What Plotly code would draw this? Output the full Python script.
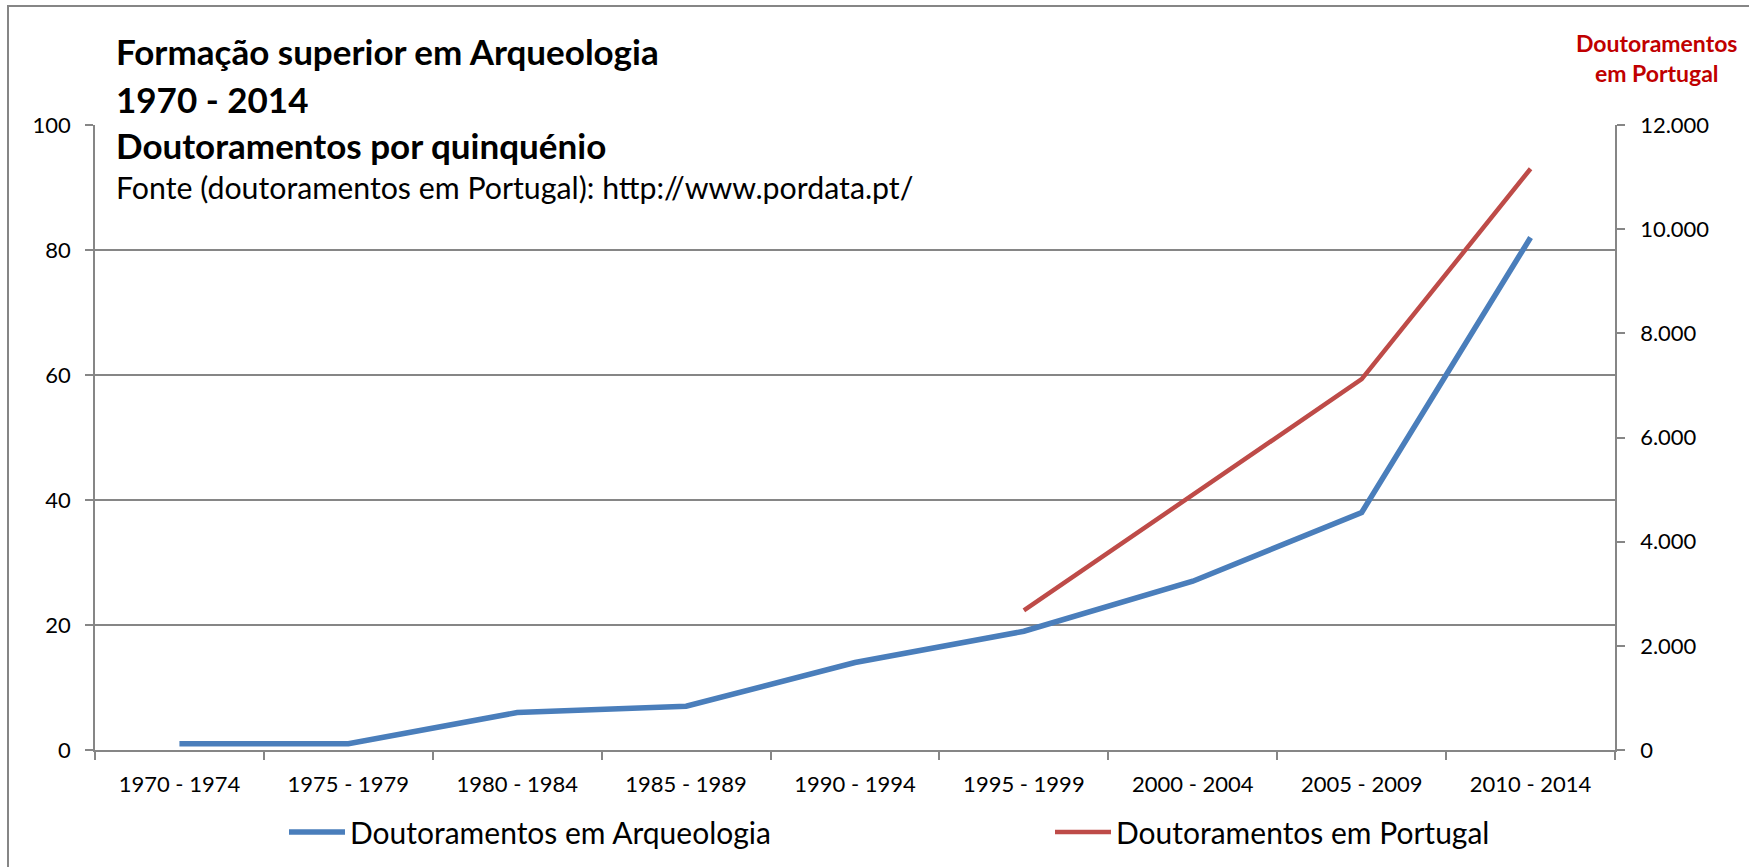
import plotly.graph_objects as go

categories = ["1970 - 1974", "1975 - 1979", "1980 - 1984", "1985 - 1989", "1990 - 1994",
              "1995 - 1999", "2000 - 2004", "2005 - 2009", "2010 - 2014"]
arqueologia = [1, 1, 6, 7, 14, 19, 27, 38, 82]
portugal = [None, None, None, None, None, 2680, 4900, 7120, 11160]
left_ticks = [0, 20, 40, 60, 80, 100]
right_ticks = [0, 2000, 4000, 6000, 8000, 10000, 12000]

W, H = 1749, 867
L, R, T, B = 95, 1615, 125, 750
FONT = "Lato"
GRID = "#868686"

def px(X):
    return (X - L) / (R - L)

def py(Y):
    return (B - Y) / (B - T)

fig = go.Figure()
fig.add_trace(go.Scatter(x=categories, y=arqueologia, name="Doutoramentos em Arqueologia",
                         mode="lines", line=dict(color="#4A7EBB", width=5.5), yaxis="y",
                         legend="legend"))
fig.add_trace(go.Scatter(x=categories, y=portugal, name="Doutoramentos em Portugal",
                         mode="lines", line=dict(color="#BE4B48", width=4.5), yaxis="y2",
                         connectgaps=False, legend="legend2"))

legend_common = dict(orientation="h", yanchor="middle", xanchor="left",
                     font=dict(size=30, family=FONT, color="black"),
                     itemwidth=56, bgcolor="rgba(0,0,0,0)")

fig.update_layout(
    width=W, height=H,
    margin=dict(l=L, r=W - R, t=T, b=H - B, autoexpand=False),
    paper_bgcolor="white", plot_bgcolor="white",
    separators=",.",
    font=dict(family=FONT, color="black", size=22),
    xaxis=dict(type="category", categoryorder="array", categoryarray=categories,
               range=[-0.5, len(categories) - 0.5],
               showline=True, linecolor=GRID, linewidth=1.5,
               ticks="outside", tickson="boundaries", ticklen=8, tickcolor=GRID, tickwidth=1.5,
               showgrid=False, tickfont=dict(size=22, family=FONT), ticklabelstandoff=14),
    yaxis=dict(range=[0, 100], tickvals=left_ticks, showline=True, linecolor=GRID, linewidth=1.5,
               ticks="outside", ticklen=8, tickcolor=GRID, tickwidth=1.5,
               showgrid=True, gridcolor=GRID, gridwidth=1.5, zeroline=False,
               tickfont=dict(size=22, family=FONT), ticklabelstandoff=10),
    yaxis2=dict(range=[0, 12000], tickvals=right_ticks, tickformat=",d", overlaying="y", side="right",
                showline=True, linecolor=GRID, linewidth=1.5,
                ticks="outside", ticklen=8, tickcolor=GRID, tickwidth=1.5,
                showgrid=False, zeroline=False, tickfont=dict(size=22, family=FONT), ticklabelstandoff=11),
    legend=dict(x=px(284), y=py(832), **legend_common),
    legend2=dict(x=px(1050), y=py(832), **legend_common),
    showlegend=True,
)

# white box behind title (hides the top gridline)
fig.add_shape(type="rect", xref="paper", yref="paper", x0=px(97), x1=px(920), y0=py(30), y1=py(210),
              fillcolor="white", line=dict(width=0), layer="above")
# outer chart frame
fig.add_shape(type="rect", xref="paper", yref="paper", x0=px(8), x1=px(1760), y0=py(6), y1=py(880),
              fillcolor="rgba(0,0,0,0)", line=dict(color=GRID, width=2), layer="above")

titles = [("<b>Formação superior em Arqueologia</b>", 51, 35),
          ("<b>1970 - 2014</b>", 99, 35),
          ("<b>Doutoramentos por quinquénio</b>", 145, 35),
          ("Fonte (doutoramentos em Portugal): http://www.pordata.pt/", 187, 30.3)]
for text, yc, size in titles:
    fig.add_annotation(text=text, xref="paper", yref="paper", x=px(114), y=py(yc),
                       xanchor="left", yanchor="middle", showarrow=False,
                       font=dict(size=size, family=FONT, color="black"))

fig.add_annotation(text="<b>Doutoramentos<br>em Portugal</b>", xref="paper", yref="paper",
                   x=px(1656), y=py(58), xanchor="center", yanchor="middle", showarrow=False,
                   align="center", font=dict(size=23, family=FONT, color="#C00000"))

fig.write_html("out.html", config={"displayModeBar": False},
               post_script="document.body.style.margin='0';")
